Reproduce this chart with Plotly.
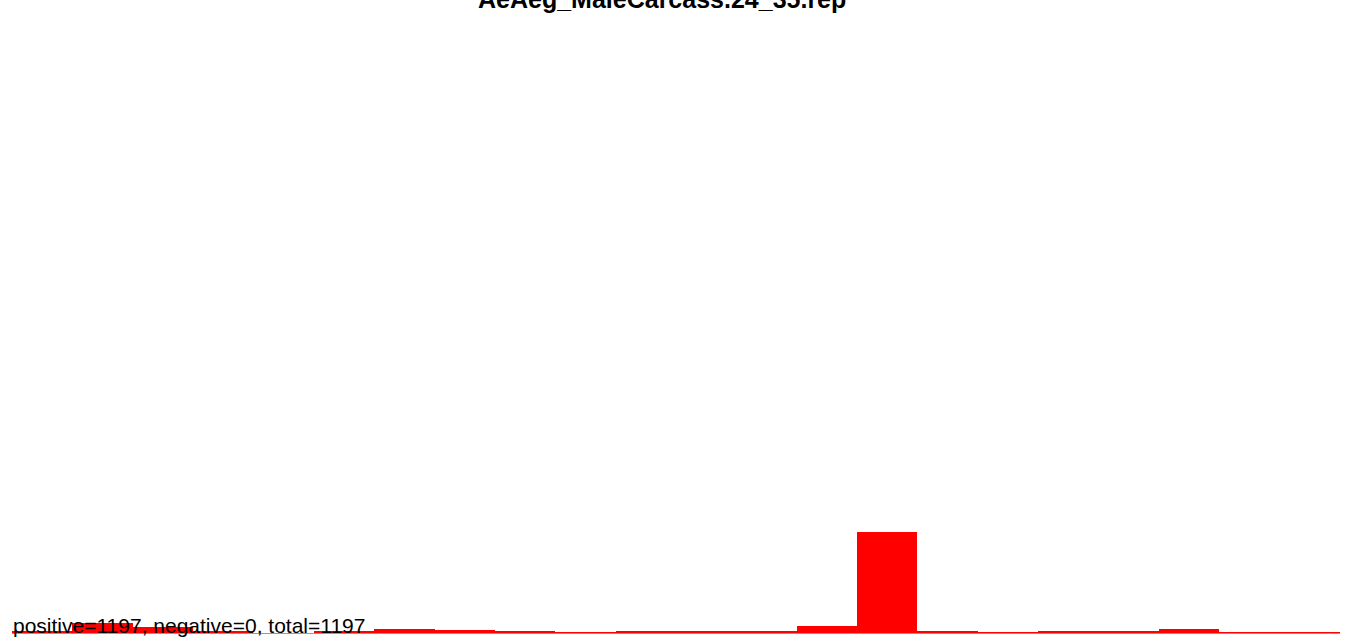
import plotly.graph_objects as go

# Histogram bins (22 bins) and counts of positive items
bins = list(range(22))
positive = [10, 79, 51, 8, 0, 8, 31, 20, 8, 4, 10, 8, 16, 55, 794, 18, 6, 10, 18, 31, 6, 6]
negative = [0] * 22
title_text = "AeAeg_MaleCarcass.24_35.rep"
total = sum(positive) + sum(negative)
summary = f"positive={sum(positive)}, negative={sum(negative)}, total={total}"

y_max = 4818

fig = go.Figure()
fig.add_trace(go.Bar(x=bins, y=positive, marker=dict(color="#ff0000", line=dict(width=0)),
                     width=1.0, hoverinfo="x+y", showlegend=False))

fig.update_layout(
    width=1352, height=641,
    margin=dict(l=12, r=12, t=20, b=8, pad=0),
    paper_bgcolor="white", plot_bgcolor="white",
    bargap=0,
    showlegend=False,
    font=dict(family="Liberation Sans, Arial, sans-serif", color="black"),
    xaxis=dict(range=[-0.5, 21.5], showgrid=False, zeroline=False, showticklabels=False,
               ticks="", showline=True, linecolor="#999999", linewidth=1, layer="below traces"),
    yaxis=dict(range=[0, y_max], showgrid=False, zeroline=False, showticklabels=False,
               ticks="", showline=False),
)

fig.add_annotation(text=f"<b>{title_text}</b>", xref="paper", yref="paper",
                   x=0.4895, y=(633 - 7) / 613, xanchor="center", yanchor="bottom",
                   yshift=-8, showarrow=False,
                   font=dict(size=25, family="Liberation Sans, Arial, sans-serif", color="black"))

fig.add_annotation(text=summary, xref="paper", yref="paper",
                   x=0, y=0, xanchor="left", yanchor="bottom", yshift=-6, xshift=-1,
                   showarrow=False,
                   font=dict(size=21, family="Liberation Sans, Arial, sans-serif", color="black"))

fig.write_html("out.html", config={"displayModeBar": False},
               post_script="document.body.style.margin='0';")
